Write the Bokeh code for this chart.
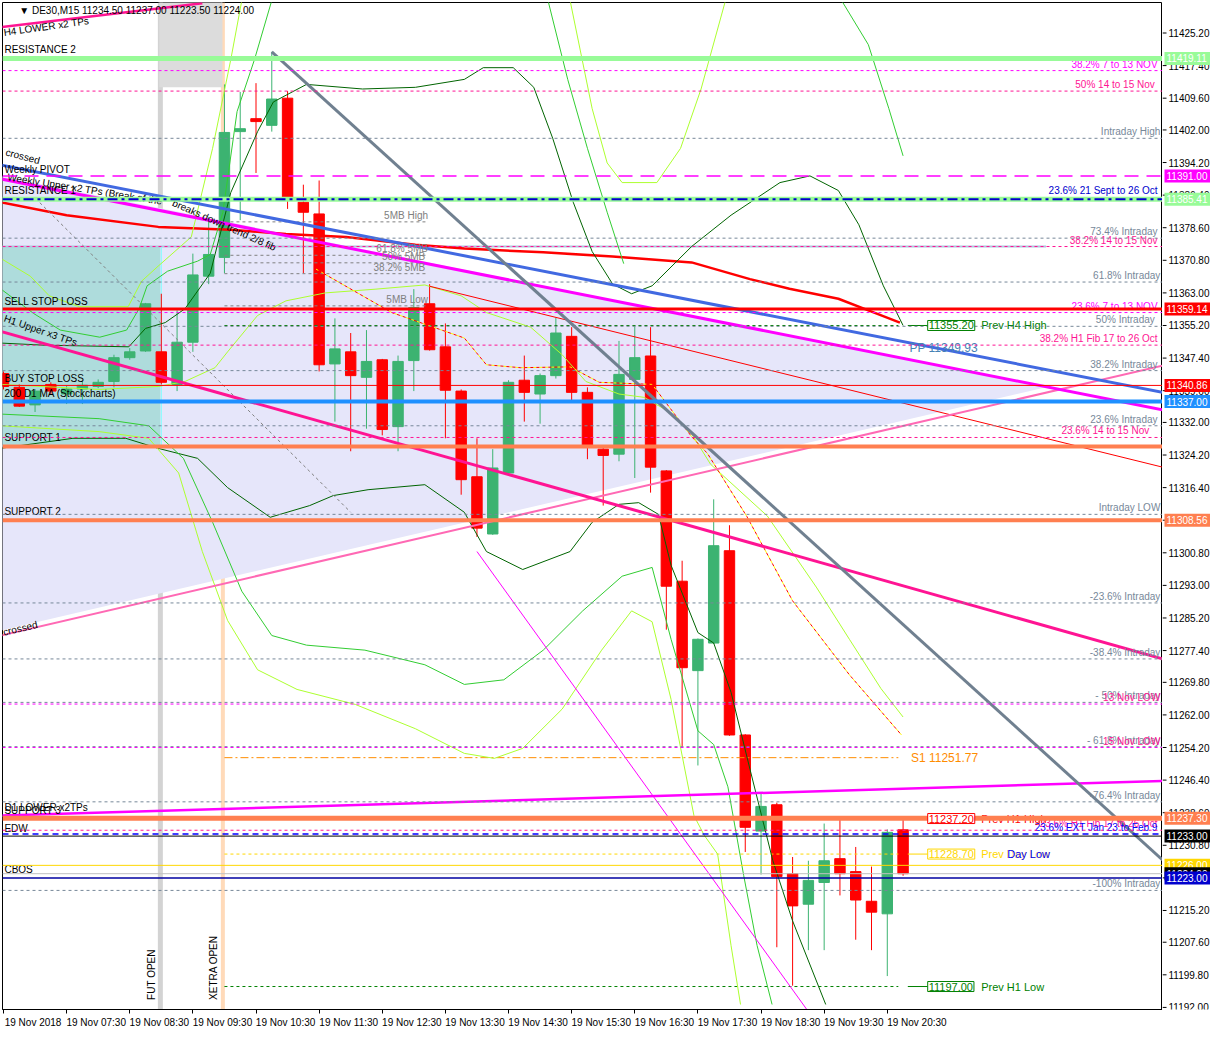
from bokeh.plotting import figure
from bokeh.layouts import row
from bokeh.models import Range1d, FixedTicker, Span, Label
from bokeh.core.properties import value
from bokeh.embed import file_html
from bokeh.resources import INLINE

FONT = "Liberation Sans"

# ---------------- data ----------------
time_labels = ["19 Nov 2018", "19 Nov 07:30", "19 Nov 08:30", "19 Nov 09:30", "19 Nov 10:30",
               "19 Nov 11:30", "19 Nov 12:30", "19 Nov 13:30", "19 Nov 14:30", "19 Nov 15:30",
               "19 Nov 16:30", "19 Nov 17:30", "19 Nov 18:30", "19 Nov 19:30", "19 Nov 20:30"]
time_ticks = [0, 4, 8, 12, 16, 20, 24, 28, 32, 36, 40, 44, 48, 52, 56]

opens = [11343.7, 11340.4, 11336.2, 11341.1, 11338.8, 11340.0, 11340.6, 11341.8, 11347.5, 11349.1,
         11348.9, 11341.1, 11351.2, 11367.0, 11371.5, 11401.6, 11404.7, 11403.1, 11409.6, 11384.7,
         11381.9, 11346.0, 11348.9, 11342.8, 11347.0, 11331.0, 11346.8, 11360.4, 11350.1, 11339.5,
         11319.0, 11305.3, 11319.9, 11342.1, 11338.8, 11343.2, 11352.6, 11339.2, 11325.6, 11324.4,
         11342.3, 11347.9, 11320.4, 11294.0, 11272.6, 11279.2, 11301.3, 11257.2, 11234.2, 11240.5,
         11224.0, 11216.7, 11221.9, 11227.6, 11224.5, 11217.4, 11214.4, 11234.5]
highs = [11344.2, 11341.1, 11340.0, 11341.6, 11340.9, 11341.8, 11342.3, 11348.2, 11349.8, 11360.6,
         11362.8, 11358.8, 11372.4, 11381.1, 11412.9, 11411.1, 11413.2, 11420.7, 11411.3, 11388.9,
         11389.9, 11356.9, 11353.4, 11354.1, 11347.2, 11348.0, 11363.9, 11365.1, 11355.7, 11339.9,
         11328.2, 11325.6, 11342.1, 11348.0, 11343.7, 11357.1, 11354.8, 11340.4, 11326.3, 11351.5,
         11355.2, 11354.8, 11320.6, 11298.9, 11280.3, 11313.6, 11307.4, 11257.4, 11243.1, 11241.0,
         11228.0, 11227.1, 11236.0, 11237.0, 11230.4, 11225.7, 11234.6, 11237.0]
lows = [11339.9, 11335.7, 11334.5, 11338.8, 11336.4, 11336.4, 11340.2, 11340.4, 11347.0, 11348.9,
        11341.1, 11339.5, 11348.9, 11365.1, 11367.7, 11380.4, 11391.7, 11401.6, 11383.1, 11367.7,
        11344.2, 11332.2, 11325.1, 11330.5, 11328.9, 11325.1, 11339.5, 11349.2, 11328.2, 11314.7,
        11304.6, 11305.1, 11319.7, 11332.2, 11331.7, 11342.5, 11337.3, 11323.2, 11312.1, 11322.7,
        11318.7, 11315.2, 11282.4, 11254.4, 11249.9, 11279.0, 11257.0, 11229.2, 11223.8, 11206.4,
        11197.2, 11205.7, 11205.7, 11218.8, 11208.2, 11205.7, 11199.5, 11223.5]
closes = [11340.6, 11335.9, 11339.5, 11339.5, 11340.0, 11340.9, 11341.6, 11347.5, 11348.9, 11360.4,
          11341.6, 11351.2, 11367.3, 11372.2, 11401.4, 11402.3, 11404.0, 11409.4, 11385.9, 11382.3,
          11345.8, 11349.6, 11343.2, 11346.6, 11330.3, 11346.6, 11359.5, 11349.4, 11339.7, 11318.3,
          11306.7, 11321.1, 11341.6, 11339.2, 11343.2, 11353.4, 11339.2, 11326.3, 11324.1, 11343.5,
          11347.5, 11321.3, 11292.8, 11273.3, 11280.1, 11302.5, 11257.2, 11235.1, 11240.1, 11223.3,
          11216.3, 11222.4, 11227.1, 11224.0, 11217.7, 11214.8, 11233.9, 11224.0]

y_ticks = [11425.20, 11417.40, 11409.60, 11402.00, 11394.20, 11386.40, 11378.60, 11370.80, 11363.00,
           11355.20, 11347.40, 11339.60, 11332.00, 11324.20, 11316.40, 11308.60, 11300.80, 11293.00,
           11285.20, 11277.40, 11269.80, 11262.00, 11254.20, 11246.40, 11238.60, 11230.80, 11223.00,
           11215.20, 11207.60, 11199.80, 11192.00]

# intraday fibonacci (grey dashed)
intraday_levels = [11400.0, 11376.1, 11365.6, 11355.0, 11344.4, 11331.2, 11310.0, 11288.8, 11275.4,
                   11265.0, 11254.4, 11241.2, 11220.0]
intraday_labels = ["Intraday High", "73.4%  Intraday", "61.8% Intraday", "50%   Intraday",
                   "38.2%  Intraday", "23.6%  Intraday", "Intraday LOW", "-23.6% Intraday",
                   "-38.4% Intraday", "- 50% Intraday", "- 61.8% Intraday", "-76.4% Intraday",
                   "-100% Intraday"]

# other fibonacci levels (pink / magenta dashed)
fib_levels = [11416.2, 11411.3, 11374.1, 11358.3, 11350.5, 11328.4, 11264.6, 11254.2, 11234.4]
fib_labels = ["38.2%  7 to 13 NOV", "50%   14 to 15 Nov", "38.2%  14 to 15 Nov", "23.6%  7 to 13 NOV",
              "38.2%  H1 Fib 17 to 26 Oct", "23.6%     14 to 15 Nov", "13 Nov LOW", "15 Nov LOW",
              "23.6%  H1 Fib 17 to 26 Oct"]
fib_line_colors = ["#FF00FF", "#FF1493", "#FF1493", "#FF00FF", "#FF1493", "#FF1493", "#FF00FF",
                   "#FF00FF", "#FF1493"]
fib_text_colors = ["#FF00FF", "#FF1493", "#FF1493", "#FF00FF", "#FF1493", "#FF1493", "#FF1493",
                   "#FF1493", "#FF1493"]

# key horizontal levels
resistance2 = 11419.11
weekly_pivot = 11391.00
resistance1 = 11385.41
sept_oct_236 = 11385.41
sell_stop = 11359.14
buy_stop = 11340.86
ma200_d1 = 11337.00
support1 = 11326.26
support2 = 11308.56
support3 = 11237.30
ext_236 = 11233.5
edw = 11233.00
gold_level = 11226.00
bid_level = 11224.00
cbos = 11223.00

# 5MB range
mb_levels = [11380.0, 11372.0, 11370.2, 11367.6, 11359.9]
mb_labels = ["5MB High", "61.8% 5MB", "50%  5MB", "38.2%  5MB", "5MB Low"]

# previous period levels
prev_levels = [11355.20, 11237.20, 11228.70, 11197.00]
prev_labels = ["Prev H4 High", "Prev H1 High", "Prev Day Low", "Prev H1 Low"]
prev_colors = ["#008000", "#FF0000", "#FFD700", "#008000"]
s1_level = 11251.77
pp_level = 11349.93

# right axis price tags
tag_values = [11419.11, 11391.00, 11385.41, 11359.14, 11340.86, 11337.00, 11308.56, 11237.30,
              11233.00, 11226.00, 11224.00, 11223.00]
tag_colors = ["#98FB98", "#FF00FF", "#98FB98", "#FF0000", "#FF0000", "#1E90FF", "#FF7F50", "#FF7F50",
              "#000000", "#FFD700", "#000000", "#0000CD"]

# triangle and boxes (index, price)
tri_x = [-0.19, 66.06, -0.19]
tri_y = [11391.0, 11340.4, 11282.2]
box_x = [-0.19, 9.94]
box_y = [11326.3, 11374.1]
top_box_x = [9.875, 13.875]
top_box_y = [11412.2, 11433.0]
fut_open_x = 9.94
xetra_open_x = 13.9

# trend lines (index pairs, price pairs)
tl_grey = ([17.0, 73.44], [11420.7, 11227.3])
tl_h1_upper = ([-0.19, 73.44], [11353.8, 11275.4])
tl_pink_rise = ([-0.19, 73.44], [11281.0, 11345.6])
tl_magenta = ([-0.19, 73.44], [11390.3, 11335.0])
tl_blue = ([-0.19, 73.44], [11393.6, 11339.2])
tl_red_thin = ([27.0, 73.44], [11364.6, 11321.3])
tl_magenta_thin = ([30.0, 50.9], [11301.1, 11191.5])
tl_d1_lower = ([-0.19, 73.44], [11237.9, 11246.2])
tl_h4_lower = ([-0.19, 12.6], [11426.6, 11432.3])
tl_grey_diag = ([2.3, 22.0], [11384.6, 11310.5])

# indicator curves (index, price)
ma_red_x = [-0.19, 4.0, 9.81, 14.4, 17.9, 21.7, 26.1, 29.2, 34.2, 38.6, 43.6, 47.3, 49.8, 52.9, 54.8, 56.8]
ma_red_y = [11384.7, 11381.6, 11378.8, 11378.1, 11377.1, 11376.4, 11374.5, 11373.6, 11372.7, 11371.7,
            11370.3, 11366.3, 11364.0, 11361.6, 11358.8, 11355.9]

dg_up_x = [-0.19, 2.5, 7.94, 9.0, 10.25, 11.5, 13.1, 14.4, 16.1, 17.1, 19.2, 22.75, 26.1, 29.2, 30.4,
           32.3, 33.6, 34.8, 36.1, 37.3, 38.6, 39.8, 41.1, 43.6, 46.1, 49.2, 51.1, 52.9, 54.2, 55.75, 57.0]
dg_up_y = [11351.0, 11350.5, 11350.1, 11354.5, 11355.9, 11359.2, 11367.7, 11387.0, 11401.6, 11408.7,
           11412.9, 11411.8, 11412.2, 11414.1, 11416.9, 11416.9, 11412.2, 11400.0, 11384.7, 11372.9,
           11365.1, 11362.8, 11364.7, 11374.1, 11381.6, 11389.4, 11391.0, 11387.5, 11379.3, 11364.7, 11355.2]

dg_lo_x = [-0.19, 4.4, 7.75, 9.8, 12.3, 14.2, 16.9, 19.4, 20.9, 23.1, 26.7, 29.2, 30.6, 32.9, 35.9,
           37.3, 39.0, 40.25, 41.5, 42.3, 44.0, 45.0, 46.1, 47.3, 48.75, 50.0, 52.1]
dg_lo_y = [11325.8, 11328.2, 11328.2, 11325.8, 11323.4, 11316.4, 11309.3, 11312.1, 11314.5, 11315.9,
           11317.1, 11310.5, 11301.1, 11296.8, 11301.1, 11308.1, 11312.4, 11312.8, 11310.0, 11297.8,
           11281.7, 11279.2, 11267.4, 11249.0, 11227.1, 11212.7, 11192.7]

lg_left_x = [-0.19, 1.9, 3.6, 6.1, 7.8, 8.6, 9.1, 10.4, 12.3, 13.1, 13.9, 14.8, 15.9, 17.0]
lg_left_y = [11364.0, 11358.1, 11354.1, 11352.4, 11354.1, 11359.3, 11364.7, 11368.2, 11370.6, 11372.2,
             11382.3, 11406.4, 11418.8, 11433.0]

gy_left_x = [-0.19, 1.7, 2.9, 4.8, 7.9, 8.75, 9.8, 11.9, 13.25, 14.4, 15.1]
gy_left_y = [11371.3, 11367.0, 11362.3, 11359.7, 11359.7, 11365.8, 11369.4, 11376.4, 11397.6, 11418.8, 11433.0]

gy_mid_x = [-0.19, 6.06, 9.8, 11.5, 13.4, 14.2, 16.1, 17.9, 20.4, 23.6, 26.7, 29.0, 30.6, 33.4, 35.4,
            36.9, 39.0, 40.6, 42.1, 43.6, 44.8, 48.4, 51.5, 53.6, 55.6, 57.0]
gy_mid_y = [11341.1, 11339.9, 11340.6, 11341.8, 11345.1, 11348.9, 11357.6, 11361.1, 11363.0, 11363.9,
            11364.9, 11362.3, 11358.3, 11354.8, 11348.2, 11341.8, 11338.8, 11338.0, 11334.7, 11329.3,
            11322.0, 11309.6, 11292.6, 11280.1, 11268.3, 11261.5]

gy_lo_x = [-0.19, 6.06, 9.2, 11.1, 12.6, 14.2, 16.1, 18.6, 22.3, 26.1, 29.2, 31.1, 32.9, 35.4, 37.9,
           39.8, 41.1, 42.3, 43.75, 44.4, 45.25, 46.1, 46.7]
gy_lo_y = [11331.2, 11329.8, 11328.2, 11319.9, 11301.1, 11284.6, 11272.8, 11268.1, 11264.5, 11258.7,
           11252.8, 11251.6, 11254.0, 11263.4, 11277.5, 11286.9, 11284.3, 11265.7, 11237.9, 11233.2,
           11228.7, 11206.8, 11192.7]

lg_lo_x = [-0.19, 6.06, 9.2, 11.4, 13.25, 15.1, 17.0, 19.2, 22.9, 26.7, 29.2, 31.7, 34.2, 36.7, 39.2,
           41.1, 42.3, 44.0, 45.0, 45.9, 46.9, 47.75, 48.7]
lg_lo_y = [11334.0, 11332.9, 11331.2, 11323.4, 11308.1, 11291.6, 11281.0, 11278.7, 11277.5, 11274.0,
           11269.3, 11270.4, 11277.5, 11286.9, 11295.2, 11297.3, 11280.1, 11258.2, 11254.9, 11244.8,
           11223.6, 11206.8, 11192.7]

gy_top_x = [35.9, 37.3, 38.25, 39.2, 41.4, 42.9, 44.2, 45.75]
gy_top_y = [11433.0, 11407.1, 11394.1, 11389.4, 11389.4, 11397.6, 11411.8, 11433.0]

lg_top_x = [34.5, 35.75, 37.0, 38.25, 39.3]
lg_top_y = [11433.0, 11414.1, 11397.6, 11382.3, 11370.0]

lg_right_x = [53.1, 54.8, 56.1, 57.0]
lg_right_y = [11433.0, 11422.4, 11407.1, 11395.8]

dots_x = [19.8, 24.6, 29.2, 30.6, 32.75, 35.9, 37.75, 41.1, 43.6, 44.6, 47.1, 50.0, 53.6, 56.9]
dots_y = [11368.7, 11358.3, 11352.2, 11345.8, 11345.1, 11345.3, 11341.6, 11341.1, 11328.6, 11324.6,
          11309.5, 11289.3, 11271.6, 11257.2]

# ---------------- main figure ----------------
X0, X1 = -0.0625, 73.4375
Y0, Y1 = 11191.5, 11432.5
p = figure(width=1162, height=1031, output_backend="svg", toolbar_location=None,
           x_range=Range1d(X0, X1), y_range=Range1d(Y0, Y1),
           y_axis_location=None, min_border_left=2, min_border_top=2,
           min_border_right=0, min_border_bottom=22)
p.grid.visible = False
p.background_fill_color = "white"
p.border_fill_color = "white"
p.outline_line_color = "black"
p.outline_line_width = 1

# bottom time axis: minor ticks mark the hours, labels start just right of each tick
label_shift = 1.875
xax = p.xaxis[0]
xax.ticker = FixedTicker(ticks=[t + label_shift for t in time_ticks], minor_ticks=time_ticks)
xax.major_label_overrides = {t + label_shift: s for t, s in zip(time_ticks, time_labels)}
xax.axis_line_color = "black"
xax.major_tick_line_color = None
xax.major_tick_out = 0
xax.major_tick_in = 0
xax.minor_tick_line_color = "black"
xax.minor_tick_out = 4
xax.minor_tick_in = 0
xax.major_label_text_font = FONT
xax.major_label_text_font_size = "10px"
xax.major_label_text_color = "black"
xax.major_label_standoff = 3


def txt(x, y, s, color="black", size="10px", align="left", baseline="bottom", angle=0.0, xoff=0, yoff=0, fig=None):
    f = fig if fig is not None else p
    f.text(x=[x], y=[y], text=[s], text_color=color, text_font=value(FONT), text_font_size=size,
           text_align=align, text_baseline=baseline, angle=angle, angle_units="deg",
           x_offset=xoff, y_offset=yoff)


def hline(level, color, width=1, dash="solid"):
    p.add_layout(Span(location=level, dimension="width", line_color=color, line_width=width,
                      line_dash=dash))


# background shapes
p.patch(tri_x, tri_y, fill_color="#E6E6FA", line_color=None)
p.quad(left=[box_x[0]], right=[box_x[1]], bottom=[box_y[0]], top=[box_y[1]],
       fill_color="#AEDCDC", line_color=None)
p.quad(left=[top_box_x[0]], right=[top_box_x[1]], bottom=[top_box_y[0]], top=[top_box_y[1]],
       fill_color="#DCDCDC", line_color=None)
p.segment(x0=[box_x[0], box_x[0]], x1=[66.06, 66.06], y0=[box_y[1], box_y[0]], y1=[box_y[1], box_y[0]],
          line_color="#B0C4DE", line_width=2)
p.add_layout(Span(location=fut_open_x, dimension="height", line_color="#D3D3D3", line_width=5,
                  level="underlay"))
p.add_layout(Span(location=xetra_open_x, dimension="height", line_color="#FFDAB9", line_width=4,
                  level="underlay"))
p.segment(x0=[fut_open_x + 0.06], x1=[fut_open_x + 0.06], y0=[box_y[0]], y1=[box_y[1]],
          line_color="#7FFFFF", line_width=1)

# candles
idx = list(range(len(opens)))
ccol = ["#3CB371" if c >= o else "#FF0000" for o, c in zip(opens, closes)]
p.segment(x0=idx, x1=idx, y0=lows, y1=highs, line_color=ccol, line_width=1)
p.vbar(x=idx, width=0.66, top=[max(o, c) for o, c in zip(opens, closes)],
       bottom=[min(o, c) for o, c in zip(opens, closes)], fill_color=ccol, line_color=ccol)

# horizontal levels
for lv in intraday_levels:
    hline(lv, "#778899", 1, "3 3")
for lv, c in zip(fib_levels, fib_line_colors):
    hline(lv, c, 1, "3 3")
hline(resistance2, "#98FB98", 5)
hline(resistance1, "#98FB98", 5)
hline(sept_oct_236, "#0000CD", 2, "10 4 3 4")
hline(weekly_pivot, "#FF00FF", 1.5, "14 8")
hline(sell_stop, "#FF0000", 3)
hline(buy_stop, "#FF0000", 1)
hline(ma200_d1, "#1E90FF", 4)
hline(support1, "#FF7F50", 4)
hline(support2, "#FF7F50", 4)
hline(support3, "#FF7F50", 5)
hline(ext_236, "#0000FF", 1.5, "6 4")
hline(edw, "#000000", 1)
hline(gold_level, "#FFD700", 1)
hline(bid_level, "#C0C0C0", 1)
hline(cbos, "#0000A0", 1.5)

# 5MB lines
p.segment(x0=[14.0] * len(mb_levels), x1=[26.9] * len(mb_levels), y0=mb_levels, y1=mb_levels,
          line_color="#808080", line_dash="3 3", line_width=1)

# previous period levels
for lv, c in zip(prev_levels, prev_colors):
    p.segment(x0=[14.0], x1=[56.7], y0=[lv], y1=[lv], line_color=c, line_dash="3 3", line_width=1)
    p.segment(x0=[57.3], x1=[58.56], y0=[lv], y1=[lv], line_color=c, line_width=1)
p.segment(x0=[14.0], x1=[56.7], y0=[s1_level], y1=[s1_level], line_color="#FF8C00",
          line_dash="8 3 2 3", line_width=1)

# indicator curves
p.line(ma_red_x, ma_red_y, line_color="#FF0000", line_width=2.5)
p.line(dg_up_x, dg_up_y, line_color="#006400", line_width=1)
p.line(dg_lo_x, dg_lo_y, line_color="#006400", line_width=1)
p.line(lg_left_x, lg_left_y, line_color="#32CD32", line_width=1)
p.line(lg_lo_x, lg_lo_y, line_color="#32CD32", line_width=1)
p.line(lg_top_x, lg_top_y, line_color="#32CD32", line_width=1)
p.line(lg_right_x, lg_right_y, line_color="#32CD32", line_width=1)
p.line(gy_left_x, gy_left_y, line_color="#ADFF2F", line_width=1)
p.line(gy_mid_x, gy_mid_y, line_color="#ADFF2F", line_width=1)
p.line(gy_lo_x, gy_lo_y, line_color="#ADFF2F", line_width=1)
p.line(gy_top_x, gy_top_y, line_color="#ADFF2F", line_width=1)
p.line(dots_x, dots_y, line_color="#FFFF00", line_width=1, line_dash="3 3")
p.line(dots_x, dots_y, line_color="#FF0000", line_width=1, line_dash="3 3", line_dash_offset=3)

# trend lines
p.line(*tl_grey_diag, line_color="#808080", line_width=1, line_dash="3 3")
p.line(*tl_magenta_thin, line_color="#FF00FF", line_width=1)
p.line(*tl_red_thin, line_color="#FF0000", line_width=1)
p.line(*tl_pink_rise, line_color="#FF69B4", line_width=2)
p.line(*tl_h1_upper, line_color="#FF1493", line_width=3)
p.line(*tl_magenta, line_color="#FF00FF", line_width=3)
p.line(*tl_blue, line_color="#4169E1", line_width=3)
p.line(*tl_d1_lower, line_color="#FF00FF", line_width=2.5)
p.line(*tl_h4_lower, line_color="#FF1493", line_width=2.5)
p.line(*tl_grey, line_color="#708090", line_width=3)

# right-edge labels
XR = 73.3
for lv, s in zip(intraday_levels, intraday_labels):
    txt(XR, lv, s, "#778899", align="right", yoff=-1)
for lv, s, c in zip(fib_levels, fib_labels, fib_text_colors):
    txt(XR, lv, s, c, align="right", yoff=-1)
txt(XR, sept_oct_236, "23.6%  21 Sept to 26 Oct", "#0000CD", align="right", yoff=-3)
txt(XR, ext_236, "23.6%  EXT Jan 23 to Feb 9", "#0000FF", align="right", yoff=-1)

for lv, s in zip(mb_levels, mb_labels):
    txt(26.9, lv, s, "#808080", align="right", yoff=-1)

# left labels
XL = 0.06
txt(XL, resistance2, "RESISTANCE 2", yoff=-3)
txt(XL, weekly_pivot, "Weekly PIVOT", yoff=-1)
txt(XL, resistance1, "RESISTANCE 1", yoff=-3)
txt(XL, sell_stop, "SELL STOP LOSS", yoff=-2)
txt(XL, buy_stop, "BUY STOP LOSS", yoff=-1)
txt(XL, ma200_d1, "200 D1 MA (Stockcharts)", yoff=-3)
txt(XL, support1, "SUPPORT 1", yoff=-3)
txt(XL, support2, "SUPPORT 2", yoff=-3)
txt(XL, tl_d1_lower[1][0], "D1 LOWER  x2TPs", yoff=-3)
txt(XL, support3, "SUPPORT 3", yoff=-2)
txt(XL, edw, "EDW", yoff=-2)
txt(XL, cbos, "CBOS", yoff=-3)
txt(XL, 11395.5, "crossed", angle=-15)
txt(0.2, 11389.5, "Weekly Upper x2 TPs (Break of the", angle=-9)
txt(10.6, 11383.5, "breaks down trend 2/8 fib", angle=-24)
txt(XL, 11357.0, "H1 Upper x3 TPs", baseline="middle", angle=-19)
txt(XL, 11280.5, "crossed", angle=13)
txt(XL, 11424.0, "H4 LOWER x2 TPs", angle=8)
txt(1.0, 11430.6, "\u25bc DE30,M15  11234.50 11237.00 11223.50 11224.00", baseline="middle")

# vertical markers
txt(fut_open_x - 0.2, 11193.8, "FUT OPEN", angle=90, baseline="bottom")
txt(xetra_open_x - 0.25, 11193.8, "XETRA OPEN", angle=90, baseline="bottom")

# previous level boxes
for lv, s, c in zip(prev_levels, prev_labels, prev_colors):
    p.add_layout(Label(x=58.56, y=lv, text=f"{lv:.2f}", text_color=c, text_font=FONT,
                       text_font_size="11px", text_baseline="middle", background_fill_color="white",
                       border_line_color=c, padding=1))
    txt(61.95, lv, s, c, size="11px", baseline="middle")
txt(63.6, prev_levels[2], "Day Low", "#0000FF", size="11px", baseline="middle")
txt(57.5, s1_level, f"S1 {s1_level:.2f}", "#FF8C00", size="12px", baseline="middle")
txt(57.4, pp_level, f"PP {pp_level:.2f}", "#4682B4", size="12px", baseline="middle")

# ---------------- price scale column (shares the price range) ----------------
side = figure(width=48, height=1031, output_backend="svg", toolbar_location=None,
              x_range=Range1d(0, 48), y_range=p.y_range, x_axis_location=None, y_axis_location=None,
              min_border_left=0, min_border_right=0, min_border_top=2, min_border_bottom=22)
side.grid.visible = False
side.outline_line_color = None
side.background_fill_color = "white"
side.border_fill_color = "white"

side.segment(x0=[0] * len(y_ticks), x1=[4] * len(y_ticks), y0=y_ticks, y1=y_ticks,
             line_color="black", line_width=1)
side.text(x=[6] * len(y_ticks), y=y_ticks, text=[f"{t:.2f}" for t in y_ticks], text_color="black",
          text_font=value(FONT), text_font_size="10px", text_align="left", text_baseline="middle")
for v, c in zip(tag_values, tag_colors):
    side.rect(x=[25], y=[v], width=[46], height=13, height_units="screen", fill_color=c, line_color=None)
    side.text(x=[4], y=[v], text=[f"{v:.2f}"], text_color="white", text_font=value(FONT),
              text_font_size="10px", text_align="left", text_baseline="middle")

layout = row(p, side, spacing=0)
open("out.html", "w").write(file_html(layout, INLINE))
